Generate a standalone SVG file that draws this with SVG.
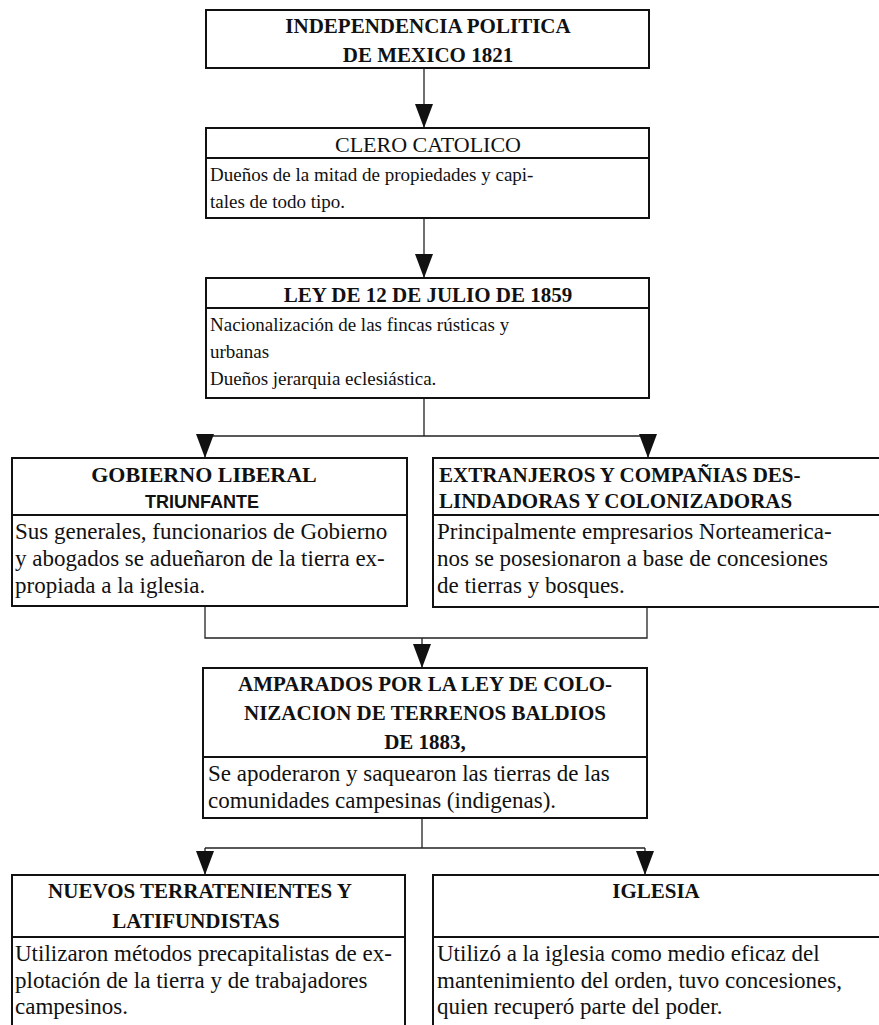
<svg xmlns="http://www.w3.org/2000/svg" width="879" height="1025" viewBox="0 0 879 1025">
<style>
.box{fill:#fff;stroke:#111;stroke-width:2}
.dv{stroke:#111;stroke-width:1.8}
.conn{stroke:#222;stroke-width:1.3;fill:none}
.h{font-family:"Liberation Serif","Times New Roman",serif;font-weight:bold;font-size:21px;fill:#111}
.hn{font-family:"Liberation Serif","Times New Roman",serif;font-size:22px;fill:#111}
.b{font-family:"Liberation Serif","Times New Roman",serif;font-size:23px;fill:#111}
.bs{font-family:"Liberation Serif","Times New Roman",serif;font-size:19px;fill:#111}
.s{font-family:"Liberation Sans",Arial,sans-serif;font-weight:bold;font-size:18px;fill:#111}
.c{text-anchor:middle}
</style>
<defs>
<marker id="ah" markerUnits="userSpaceOnUse" markerWidth="24" markerHeight="18" refX="24" refY="9" orient="auto" viewBox="0 0 24 18"><path d="M0,0 L24,9 L0,18 z" fill="#111"/></marker>
</defs>
<rect width="879" height="1025" fill="#fff"/>

<g id="connectors">
<path class="conn" d="M424,68 V128" marker-end="url(#ah)"/>
<path class="conn" d="M424,218 V278" marker-end="url(#ah)"/>
<path class="conn" d="M424,398 V436 M205,436 H648"/>
<path class="conn" d="M205,436 V458" marker-end="url(#ah)"/>
<path class="conn" d="M648,436 V458" marker-end="url(#ah)"/>
<path class="conn" d="M205,606 V638 H647 V607"/>
<path class="conn" d="M422,638 V668" marker-end="url(#ah)"/>
<path class="conn" d="M422,818 V848 M205,848 H645"/>
<path class="conn" d="M205,848 V875" marker-end="url(#ah)"/>
<path class="conn" d="M645,848 V875" marker-end="url(#ah)"/>
</g>

<g id="n1">
<rect class="box" x="206" y="10" width="443" height="58"/>
<text class="h c" x="428" y="33">INDEPENDENCIA POLITICA</text>
<text class="h c" x="428" y="62">DE MEXICO 1821</text>
</g>

<g id="n2">
<rect class="box" x="206" y="128" width="443" height="90"/>
<line class="dv" x1="206" y1="158" x2="649" y2="158"/>
<text class="hn c" x="428" y="152">CLERO CATOLICO</text>
<text class="bs" x="210" y="181">Dueños de la mitad de propiedades y capi-</text>
<text class="bs" x="210" y="208">tales de todo tipo.</text>
</g>

<g id="n3">
<rect class="box" x="206" y="278" width="443" height="120"/>
<line class="dv" x1="206" y1="308" x2="649" y2="308"/>
<text class="h c" x="428" y="302">LEY DE 12 DE JULIO DE 1859</text>
<text class="bs" x="210" y="331">Nacionalización de las fincas rústicas y</text>
<text class="bs" x="210" y="358">urbanas</text>
<text class="bs" x="210" y="385">Dueños jerarquia eclesiástica.</text>
</g>

<g id="n4">
<rect class="box" x="12" y="458" width="395" height="148"/>
<line class="dv" x1="12" y1="515" x2="407" y2="515"/>
<text class="h c" x="204" y="482" style="font-size:22px">GOBIERNO LIBERAL</text>
<text class="s c" x="202" y="508">TRIUNFANTE</text>
<text class="b" x="15" y="539">Sus generales, funcionarios de Gobierno</text>
<text class="b" x="15" y="566">y abogados se adueñaron de la tierra ex-</text>
<text class="b" x="15" y="593">propiada a la iglesia.</text>
</g>

<g id="n5">
<rect class="box" x="433" y="458" width="452" height="149"/>
<line class="dv" x1="433" y1="515" x2="885" y2="515"/>
<text class="h" x="439" y="482">EXTRANJEROS Y COMPAÑIAS DES-</text>
<text class="h" x="439" y="508">LINDADORAS Y COLONIZADORAS</text>
<text class="b" x="437" y="539">Principalmente empresarios Norteamerica-</text>
<text class="b" x="437" y="566">nos se posesionaron a base de concesiones</text>
<text class="b" x="437" y="593">de tierras y bosques.</text>
</g>

<g id="n6">
<rect class="box" x="203" y="668" width="444" height="150"/>
<line class="dv" x1="203" y1="757" x2="647" y2="757"/>
<text class="h c" x="425" y="691">AMPARADOS POR LA LEY DE COLO-</text>
<text class="h c" x="425" y="720">NIZACION DE TERRENOS BALDIOS</text>
<text class="h c" x="425" y="749">DE 1883,</text>
<text class="b" x="208" y="781">Se apoderaron y saquearon las tierras de las</text>
<text class="b" x="208" y="808">comunidades campesinas (indigenas).</text>
</g>

<g id="n7">
<rect class="box" x="12" y="875" width="393" height="160"/>
<line class="dv" x1="12" y1="937" x2="405" y2="937"/>
<text class="h c" x="200" y="898">NUEVOS TERRATENIENTES Y</text>
<text class="h c" x="196" y="928">LATIFUNDISTAS</text>
<text class="b" x="15" y="961">Utilizaron métodos precapitalistas de ex-</text>
<text class="b" x="15" y="988">plotación de la tierra y de trabajadores</text>
<text class="b" x="15" y="1014">campesinos.</text>
</g>

<g id="n8">
<rect class="box" x="433" y="875" width="452" height="160"/>
<line class="dv" x1="433" y1="937" x2="885" y2="937"/>
<text class="h c" x="656" y="898">IGLESIA</text>
<text class="b" x="437" y="961">Utilizó a la iglesia como medio eficaz del</text>
<text class="b" x="437" y="988">mantenimiento del orden, tuvo concesiones,</text>
<text class="b" x="437" y="1014">quien recuperó parte del poder.</text>
</g>
</svg>
